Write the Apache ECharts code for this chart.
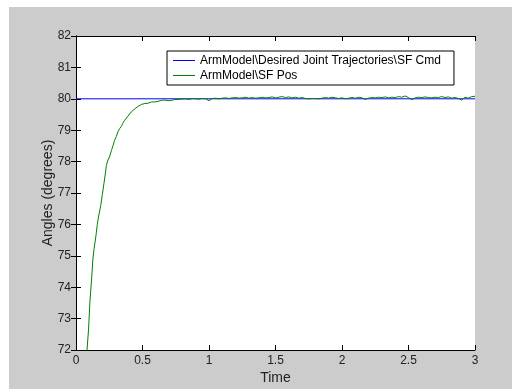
<!DOCTYPE html>
<html>
<head>
<meta charset="utf-8">
<script src="https://cdn.jsdelivr.net/npm/echarts@6/dist/echarts.min.js"></script>
<style>
html,body{margin:0;padding:0;background:#ffffff;}
#chart{width:512px;height:389px;}
</style>
</head>
<body>
<div id="chart"></div>
<script>
// ---- data ----
var seriesNames = ['ArmModel\\Desired Joint Trajectories\\SF Cmd', 'ArmModel\\SF Pos'];
var xTickLabels = ['0', '0.5', '1', '1.5', '2', '2.5', '3'];
var yTickLabels = ['72','73','74','75','76','77','78','79','80','81','82'];
var cmdData = [[0, 80], [3, 80]];
var posRise = [
  [0.070,71.40],[0.083,72.00],[0.095,72.70],[0.104,73.50],[0.110,73.85],[0.118,74.30],
  [0.127,74.90],[0.135,75.20],[0.142,75.40],[0.152,75.70],[0.160,76.00],[0.172,76.30],
  [0.186,76.60],[0.198,76.95],[0.210,77.30],[0.220,77.60],[0.228,77.87],[0.240,78.05],
  [0.252,78.15],[0.266,78.35],[0.278,78.50],[0.290,78.68],[0.303,78.80],[0.315,78.95],
  [0.328,79.05],[0.341,79.12],[0.352,79.22],[0.363,79.30],[0.375,79.36],[0.391,79.45],
  [0.402,79.50],[0.415,79.58],[0.430,79.64],[0.442,79.68],[0.454,79.73],[0.468,79.76],
  [0.480,79.80],[0.492,79.82],[0.505,79.84],[0.518,79.85],[0.529,79.87],[0.542,79.86],
  [0.555,79.89],[0.568,79.90],[0.580,79.91],[0.593,79.90],[0.605,79.93],[0.617,79.92],
  [0.629,79.94],[0.642,79.95],[0.655,79.93],[0.668,79.96],[0.680,79.96],[0.693,79.94],
  [0.705,79.97],[0.718,79.95],[0.730,79.97],[0.743,79.98],[0.755,79.96],[0.768,79.98],
  [0.780,79.98]
];
var posSteady = [
  [0.800,79.99],[0.825,80.00],[0.850,79.98],[0.875,80.01],[0.900,80.00],[0.925,79.99],
  [0.950,80.01],[0.975,80.00],[1.000,79.94],[1.025,80.01],[1.050,80.02],[1.075,80.00],
  [1.100,80.02],[1.125,80.03],[1.150,80.01],[1.175,80.03],[1.200,80.04],[1.225,80.02],
  [1.250,80.03],[1.275,80.05],[1.300,80.02],[1.325,80.04],[1.350,80.02],[1.375,80.03],
  [1.400,80.05],[1.425,80.03],[1.450,80.04],[1.475,80.06],[1.500,80.03],[1.525,80.05],
  [1.550,80.07],[1.575,80.04],[1.600,80.06],[1.625,80.03],[1.650,80.05],[1.675,80.02],
  [1.700,80.04],[1.725,80.01],[1.750,80.00],[1.775,80.01],[1.800,80.01],[1.825,80.00],
  [1.850,80.02],[1.875,80.04],[1.900,80.02],[1.925,80.05],[1.950,80.03],[1.975,80.01],
  [2.000,80.03],[2.025,80.00],[2.050,80.02],[2.075,80.04],[2.100,80.02],[2.125,80.05],
  [2.150,80.03],[2.175,79.98],[2.200,80.02],[2.225,80.04],[2.250,80.03],[2.275,80.05],
  [2.300,80.04],[2.325,80.06],[2.350,80.03],[2.375,80.05],[2.400,80.04],[2.425,80.07],
  [2.450,80.05],[2.475,80.09],[2.500,80.04],[2.525,79.97],[2.550,80.03],[2.575,80.05],
  [2.600,80.04],[2.625,80.06],[2.650,80.04],[2.675,80.03],[2.700,80.05],[2.725,80.04],
  [2.750,80.07],[2.775,80.04],[2.800,80.06],[2.825,80.02],[2.850,80.04],[2.875,80.01],
  [2.900,79.96],[2.925,80.05],[2.950,80.02],[2.975,80.07],[3.000,80.08]
];
var posData = posRise.concat(posSteady);

// ---- chart ----
var chart = echarts.init(document.getElementById('chart'), null, {renderer: 'canvas'});
var font = 'Liberation Sans, Arial, sans-serif';
function xLabel(v) {
  var i = Math.round(v / 0.5);
  return xTickLabels[i] !== undefined ? xTickLabels[i] : '';
}
function yLabel(v) {
  var i = Math.round(v - 72);
  return yTickLabels[i] !== undefined ? yTickLabels[i] : '';
}
var axisLine = {show: true, lineStyle: {color: '#000000', width: 1}};
var axisTick = {show: true, inside: true, length: 5, lineStyle: {color: '#000000', width: 1}};
chart.setOption({
  animation: false,
  backgroundColor: '#ffffff',
  graphic: [{
    type: 'rect', silent: true, z: -100,
    shape: {x: 9, y: 7, width: 503, height: 382},
    style: {fill: '#cccccc'}
  }],
  grid: {
    left: 76, top: 36, right: 37, bottom: 39,
    show: true, backgroundColor: '#ffffff', borderWidth: 0,
    containLabel: false, outerBoundsMode: 'none'
  },
  legend: {
    orient: 'vertical',
    left: 167, top: 51,
    padding: [3, 13, 3, 6],
    itemGap: 2,
    itemWidth: 22, itemHeight: 1,
    icon: 'rect',
    backgroundColor: '#ffffff',
    borderColor: '#000000', borderWidth: 1,
    textStyle: {fontFamily: font, fontSize: 12, color: '#000000', lineHeight: 13},
    data: seriesNames
  },
  xAxis: [{
    type: 'value', min: 0, max: 3, interval: 0.5, position: 'bottom',
    axisLine: axisLine, axisTick: axisTick, splitLine: {show: false},
    axisLabel: {fontFamily: font, fontSize: 12, color: '#222222', margin: 5, formatter: xLabel},
    name: 'Time', nameLocation: 'middle', nameGap: 21, nameMoveOverlap: false,
    nameTextStyle: {fontFamily: font, fontSize: 14, color: '#222222'}
  }, {
    type: 'value', min: 0, max: 3, interval: 0.5, position: 'top',
    axisLine: axisLine, axisTick: axisTick, splitLine: {show: false},
    axisLabel: {show: false}
  }],
  yAxis: [{
    type: 'value', min: 72, max: 82, interval: 1, position: 'left',
    axisLine: axisLine, axisTick: axisTick, splitLine: {show: false},
    axisLabel: {fontFamily: font, fontSize: 12, color: '#222222', margin: 5, formatter: yLabel},
    name: 'Angles (degrees)', nameLocation: 'middle', nameGap: 21, nameRotate: 90,
    nameMoveOverlap: false,
    nameTextStyle: {fontFamily: font, fontSize: 14, color: '#222222'}
  }, {
    type: 'value', min: 72, max: 82, interval: 1, position: 'right',
    axisLine: axisLine, axisTick: axisTick, splitLine: {show: false},
    axisLabel: {show: false}
  }],
  series: [{
    name: seriesNames[0], type: 'line', data: cmdData,
    showSymbol: false, symbol: 'none', clip: true,
    lineStyle: {color: '#0000ff', width: 1}, itemStyle: {color: '#0000ff'}
  }, {
    name: seriesNames[1], type: 'line', data: posData,
    showSymbol: false, symbol: 'none', clip: true,
    lineStyle: {color: '#008000', width: 1}, itemStyle: {color: '#008000'}
  }]
});
</script>
</body>
</html>
